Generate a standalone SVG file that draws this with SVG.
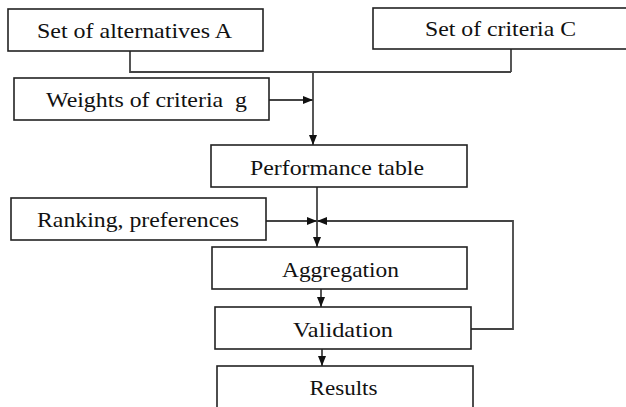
<svg xmlns="http://www.w3.org/2000/svg" width="626" height="407" viewBox="0 0 626 407">
<style>
.box{fill:#fff;stroke:#222;stroke-width:1.6}
.t{font-family:"Liberation Serif","Times New Roman",serif;font-size:21px;fill:#111;text-anchor:middle}
.c{fill:none;stroke:#444;stroke-width:1.8}
</style>
<defs>
<marker id="ah" viewBox="0 0 10 10" refX="10" refY="5" markerWidth="10" markerHeight="10" markerUnits="userSpaceOnUse" orient="auto">
<path d="M0,1 L10,5 L0,9 Z" fill="#111"/>
</marker>
</defs>
<rect width="626" height="407" fill="#fff"/>
<g id="connectors">
<polyline class="c" points="130,51 130,72 511,72"/>
<polyline class="c" points="511,49 511,72"/>
<line class="c" x1="313" y1="72" x2="313" y2="145" marker-end="url(#ah)"/>
<line class="c" x1="269" y1="100" x2="313" y2="100" marker-end="url(#ah)"/>
<line class="c" x1="317" y1="187" x2="317" y2="247" marker-end="url(#ah)"/>
<line class="c" x1="266" y1="221" x2="317" y2="221" marker-end="url(#ah)"/>
<polyline class="c" points="471,329 513,329 513,221 317,221" marker-end="url(#ah)"/>
<line class="c" x1="321" y1="289" x2="321" y2="307" marker-end="url(#ah)"/>
<line class="c" x1="322" y1="349" x2="322" y2="366" marker-end="url(#ah)"/>
</g>
<g id="node-alternatives">
<rect class="box" x="8" y="9" width="255" height="42"/>
<text class="t" x="134.5" y="38" textLength="195" lengthAdjust="spacingAndGlyphs">Set of alternatives A</text>
</g>
<g id="node-criteria">
<rect class="box" x="373" y="8" width="260" height="41"/>
<text class="t" x="500.5" y="36" textLength="151" lengthAdjust="spacingAndGlyphs">Set of criteria C</text>
</g>
<g id="node-weights">
<rect class="box" x="14" y="78" width="255" height="42"/>
<text class="t" x="146.5" y="107" textLength="201" lengthAdjust="spacingAndGlyphs" xml:space="preserve">Weights of criteria  g</text>
</g>
<g id="node-performance">
<rect class="box" x="211" y="145" width="256" height="42"/>
<text class="t" x="337" y="175" textLength="174" lengthAdjust="spacingAndGlyphs">Performance table</text>
</g>
<g id="node-ranking">
<rect class="box" x="11" y="198" width="255" height="42"/>
<text class="t" x="138" y="227" textLength="202" lengthAdjust="spacingAndGlyphs">Ranking, preferences</text>
</g>
<g id="node-aggregation">
<rect class="box" x="212" y="247" width="255" height="42"/>
<text class="t" x="340.5" y="277" textLength="117" lengthAdjust="spacingAndGlyphs">Aggregation</text>
</g>
<g id="node-validation">
<rect class="box" x="215" y="307" width="256" height="42"/>
<text class="t" x="343" y="337" textLength="100" lengthAdjust="spacingAndGlyphs">Validation</text>
</g>
<g id="node-results">
<rect class="box" x="217" y="366" width="256" height="50"/>
<text class="t" x="343.5" y="395" textLength="68" lengthAdjust="spacingAndGlyphs">Results</text>
</g>
</svg>
